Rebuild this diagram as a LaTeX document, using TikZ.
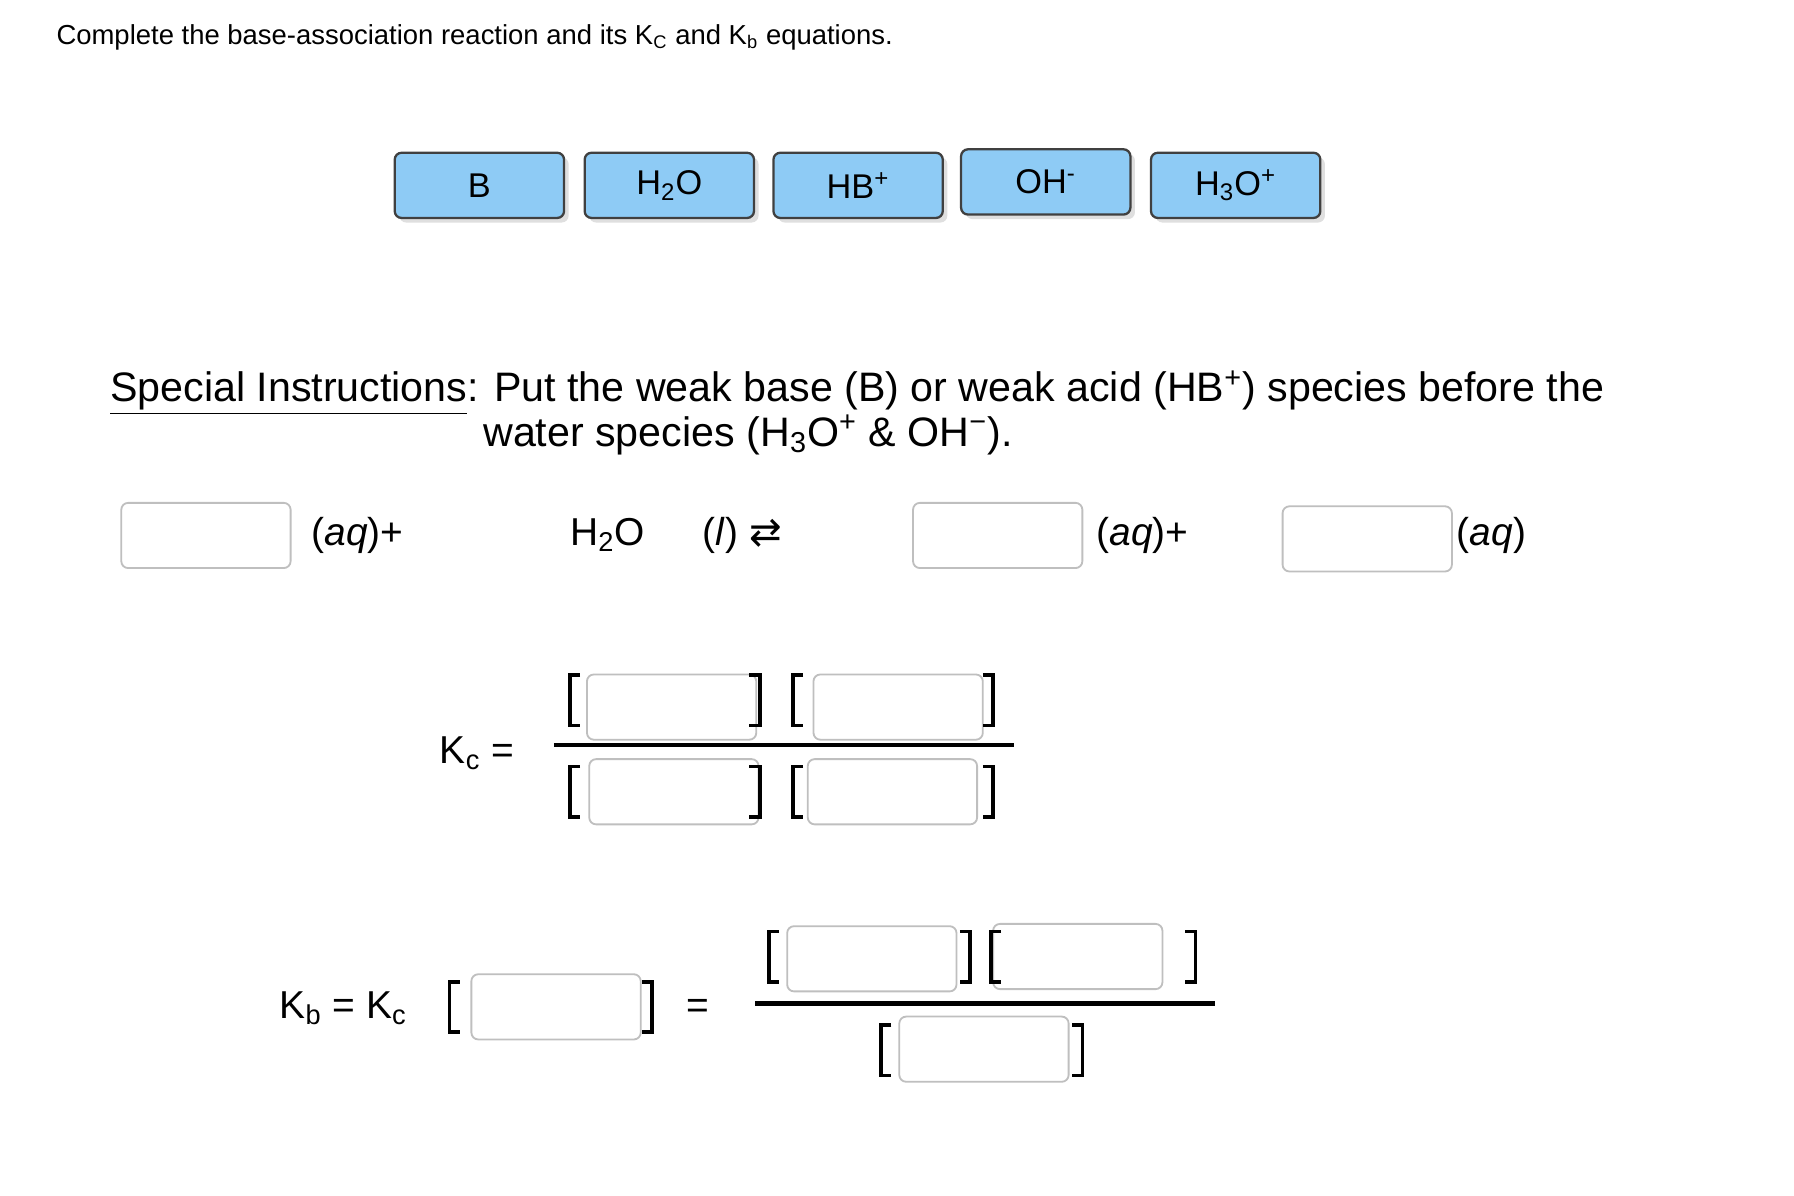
\documentclass[tikz,border=0pt]{standalone}
\usepackage{fontspec}
\setmainfont{Liberation Sans}
\newfontfamily\symfont{DejaVu Sans}
\usetikzlibrary{shadows}
\newcommand{\lbrk}[3]{\draw[brk] (#1+9,#2) -- (#1,#2) -- (#1,#3) -- (#1+9,#3);}
\newcommand{\rbrk}[3]{\draw[brk] (#1-9,#2) -- (#1,#2) -- (#1,#3) -- (#1-9,#3);}
\begin{document}
\begin{tikzpicture}[x=0.5pt,y=-0.5pt,
 tok/.style={draw=black!75,line width=1pt,fill={rgb,255:red,142;green,203;blue,245},rounded corners=3pt,minimum width=74pt,minimum height=28.5pt,inner sep=0pt,font=\fontsize{15}{15}\selectfont,drop shadow={shadow xshift=2pt,shadow yshift=-2pt,opacity=0.25}},
 ebox/.style={draw=black!25,line width=0.8pt,fill=white,rounded corners=3pt,minimum width=74pt,minimum height=28.5pt,inner sep=0pt},
 txt/.style={font=\fontsize{17}{17}\selectfont,anchor=base west,inner sep=0pt},
 brk/.style={line width=1.6pt},
 fl/.style={line width=2pt}]
\useasboundingbox (0,0) rectangle (1568,1045);
\node[anchor=base west,inner sep=0pt,font=\fontsize{12}{12}\selectfont] (title) at (49,39) {Complete the base-association reaction and its K\textsubscript{C} and K\textsubscript{b} equations.};
\node[tok] (t1) at (419,162) {B};
\node[tok] (t2) at (585,162) {H\textsubscript{2}O};
\node[tok] (t3) at (750,162) {HB\textsuperscript{+}};
\node[tok] (t4) at (914,159) {OH\textsuperscript{-}};
\node[tok] (t5) at (1080,162) {H\textsubscript{3}O\textsuperscript{+}};
\node[txt,font=\fontsize{18}{18}\selectfont] (si1) at (96,351) {\underline{Special Instructions}: Put the weak base (B) or weak acid (HB\textsuperscript{+}) species before the};
\node[txt,font=\fontsize{18}{18}\selectfont] (si2) at (422,390) {water species (H\textsubscript{3}O\textsuperscript{+} \& OH\textsuperscript{−}).};
% reaction row
\node[ebox] (r1) at (180,468) {};
\node[txt] (aq1) at (272,477) {(\textit{aq})+};
\node[txt] (h2o) at (498,477) {H\textsubscript{2}O};
\node[txt] (liq) at (614,477) {(\textit{l}) {\symfont ⇄}};
\node[ebox] (r2) at (872,468) {};
\node[txt] (aq2) at (958,477) {(\textit{aq})+};
\node[ebox] (r3) at (1195,471) {};
\node[txt] (aq3) at (1273,477) {(\textit{aq})};
% Kc
\node[txt] (kc) at (384,667) {K\textsubscript{c} =};
\draw[fl] (484,651) -- (886,651);
\node[ebox] (n1) at (587,618) {};
\node[ebox] (n2) at (785,618) {};
\node[ebox] (d1) at (589,692) {};
\node[ebox] (d2) at (780,692) {};
\lbrk{498}{590}{634} \rbrk{664}{590}{634} \lbrk{693}{590}{634} \rbrk{868}{590}{634}
\lbrk{498}{670}{714} \rbrk{664}{670}{714} \lbrk{693}{670}{714} \rbrk{868}{670}{714}
% Kb
\node[txt] (kb) at (244,890) {K\textsubscript{b} = K\textsubscript{c}};
\node[ebox] (kbx) at (486,880) {};
\lbrk{393}{858}{902} \rbrk{570}{858}{902}
\node[txt] (eq) at (600,890) {=};
\draw[fl] (660,877) -- (1062,877);
\node[ebox] (m1) at (762,838) {};
\node[ebox] (m2) at (942,836) {};
\node[ebox] (m3) at (860,917) {};
\lbrk{672}{814}{858} \rbrk{848}{814}{858} \lbrk{866}{814}{858} \rbrk{1045}{814}{858}
\lbrk{770}{896}{940} \rbrk{946}{896}{940}
\end{tikzpicture}
\end{document}
